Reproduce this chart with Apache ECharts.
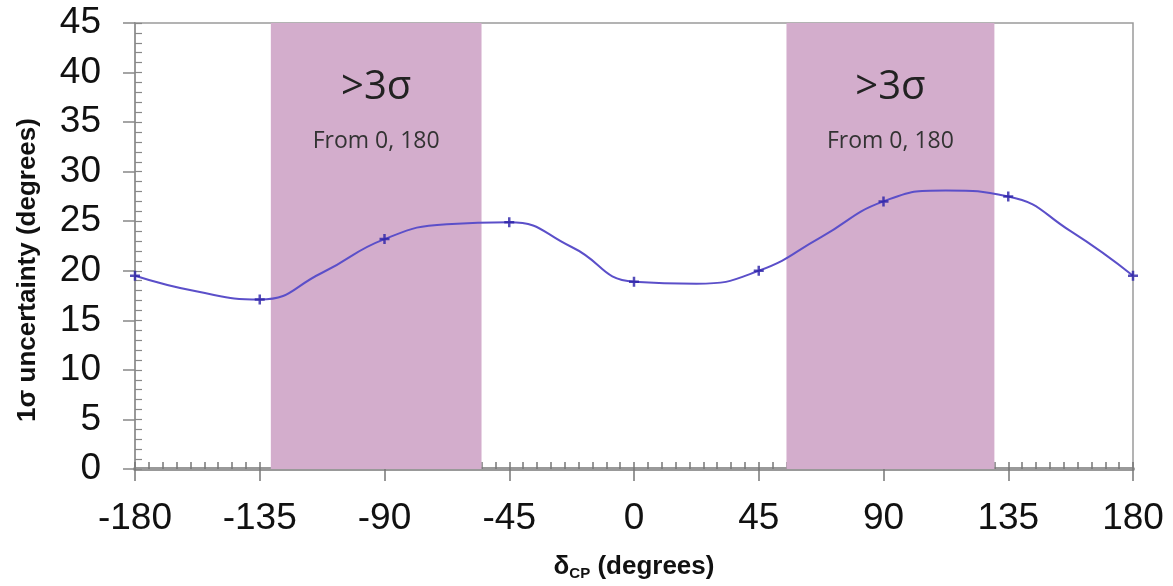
<!DOCTYPE html>
<html>
<head>
<meta charset="utf-8">
<script src="https://cdn.jsdelivr.net/npm/echarts@6/dist/echarts.min.js"></script>
<style>html,body{margin:0;padding:0;background:#fff}#c{width:1173px;height:586px}</style>
</head>
<body>
<div id="c"></div>
<script>
// curve readings (degrees, 1σ uncertainty)
const curveX = [-180, -157.5, -135, -112.5, -90, -67.5, -45, -22.5, 0, 22.5, 45, 67.5, 90, 112.5, 135, 157.5, 180];
const curveY = [19.5, 17.9, 17.1, 19.8, 23.2, 24.7, 24.9, 22.4, 18.9, 18.7, 20.0, 23.4, 27.0, 28.1, 27.5, 24.0, 19.5];
// marked points
const markX = [-180, -135, -90, -45, 0, 45, 90, 135, 180];
const markY = [19.5, 17.1, 23.2, 24.9, 18.9, 20.0, 27.0, 27.5, 19.5];
// >3σ bands
const bandStarts = [-131, 55];
const bandEnds = [-55, 130];
const bandTitle = '>3σ';
const bandNote = 'From 0, 180';

const chart = echarts.init(document.getElementById('c'), null, {renderer: 'canvas'});
const font = 'Liberation Sans, Arial, sans-serif';
const bandData = bandStarts.map((s, i) => [{xAxis: s}, {xAxis: bandEnds[i]}]);

chart.setOption({
  animation: false,
  grid: {left: 135, right: 40, top: 23, bottom: 113, show: true, borderColor: '#9a9a9a', borderWidth: 1.5, backgroundColor: 'transparent'},
  xAxis: [{
    type: 'value', min: -180, max: 180, interval: 45,
    name: 'δ{s|CP} (degrees)', nameLocation: 'middle', nameGap: 83,
    nameTextStyle: {fontFamily: font, fontSize: 26, fontWeight: 'bold', color: '#111',
      rich: {s: {fontFamily: font, fontSize: 15, fontWeight: 'bold', color: '#111', verticalAlign: 'bottom', padding: [14, 0, 0, 0]}}},
    axisLine: {show: true, onZero: false, lineStyle: {color: '#999', width: 4}},
    axisTick: {show: true, inside: false, length: 12, lineStyle: {color: '#777', width: 1.5}},
    axisLabel: {fontFamily: font, fontSize: 37, color: '#111', margin: 31, formatter: v => String(v)},
    splitLine: {show: false}
  }, {
    type: 'value', min: -180, max: 180, interval: 5, position: 'bottom',
    axisLine: {show: false, onZero: false}, axisLabel: {show: false}, splitLine: {show: false},
    axisTick: {show: true, inside: true, length: 7, lineStyle: {color: '#777', width: 1.5}}
  }],
  yAxis: [{
    type: 'value', min: 0, max: 45, interval: 5,
    name: '1σ uncertainty (degrees)', nameLocation: 'middle', nameGap: 94,
    nameTextStyle: {fontFamily: font, fontSize: 26, fontWeight: 'bold', color: '#111', padding: [0, 48, 0, 0]},
    axisLine: {show: true, onZero: false, lineStyle: {color: '#999', width: 2}},
    axisTick: {show: true, inside: false, length: 12, lineStyle: {color: '#888', width: 1.5}},
    axisLabel: {fontFamily: font, fontSize: 37, color: '#111', margin: 34},
    splitLine: {show: false}
  }, {
    type: 'value', min: 0, max: 45, interval: 1, position: 'left',
    axisLine: {show: false, onZero: false}, axisLabel: {show: false}, splitLine: {show: false},
    axisTick: {show: true, inside: true, length: 7, lineStyle: {color: '#888', width: 1.2}}
  }],
  series: [{
    type: 'line', xAxisIndex: 0, yAxisIndex: 0,
    data: curveX.map((x, i) => [x, curveY[i]]),
    smooth: 0.5, symbol: 'none',
    lineStyle: {color: '#5b4fc9', width: 2},
    z: 3,
    markArea: {
      silent: true,
      itemStyle: {color: '#d3adcc', opacity: 1},
      label: {show: true, position: 'insideTop', distance: 38,
        formatter: '{a|' + bandTitle + '}\n{b|' + bandNote + '}',
        rich: {
          a: {fontFamily: 'Open Sans, sans-serif', fontSize: 40, color: '#222', lineHeight: 54, align: 'center'},
          b: {fontFamily: 'Open Sans, sans-serif', fontSize: 23, color: '#333', lineHeight: 52, align: 'center'}
        }},
      data: bandData
    }
  }, {
    type: 'scatter', xAxisIndex: 0, yAxisIndex: 0,
    data: markX.map((x, i) => [x, markY[i]]),
    symbol: 'path://M3,0h2v3h3v2h-3v3h-2v-3h-3v-2h3z', symbolSize: 10,
    itemStyle: {color: '#2a20a8'}, z: 4
  }]
});
</script>
</body>
</html>
